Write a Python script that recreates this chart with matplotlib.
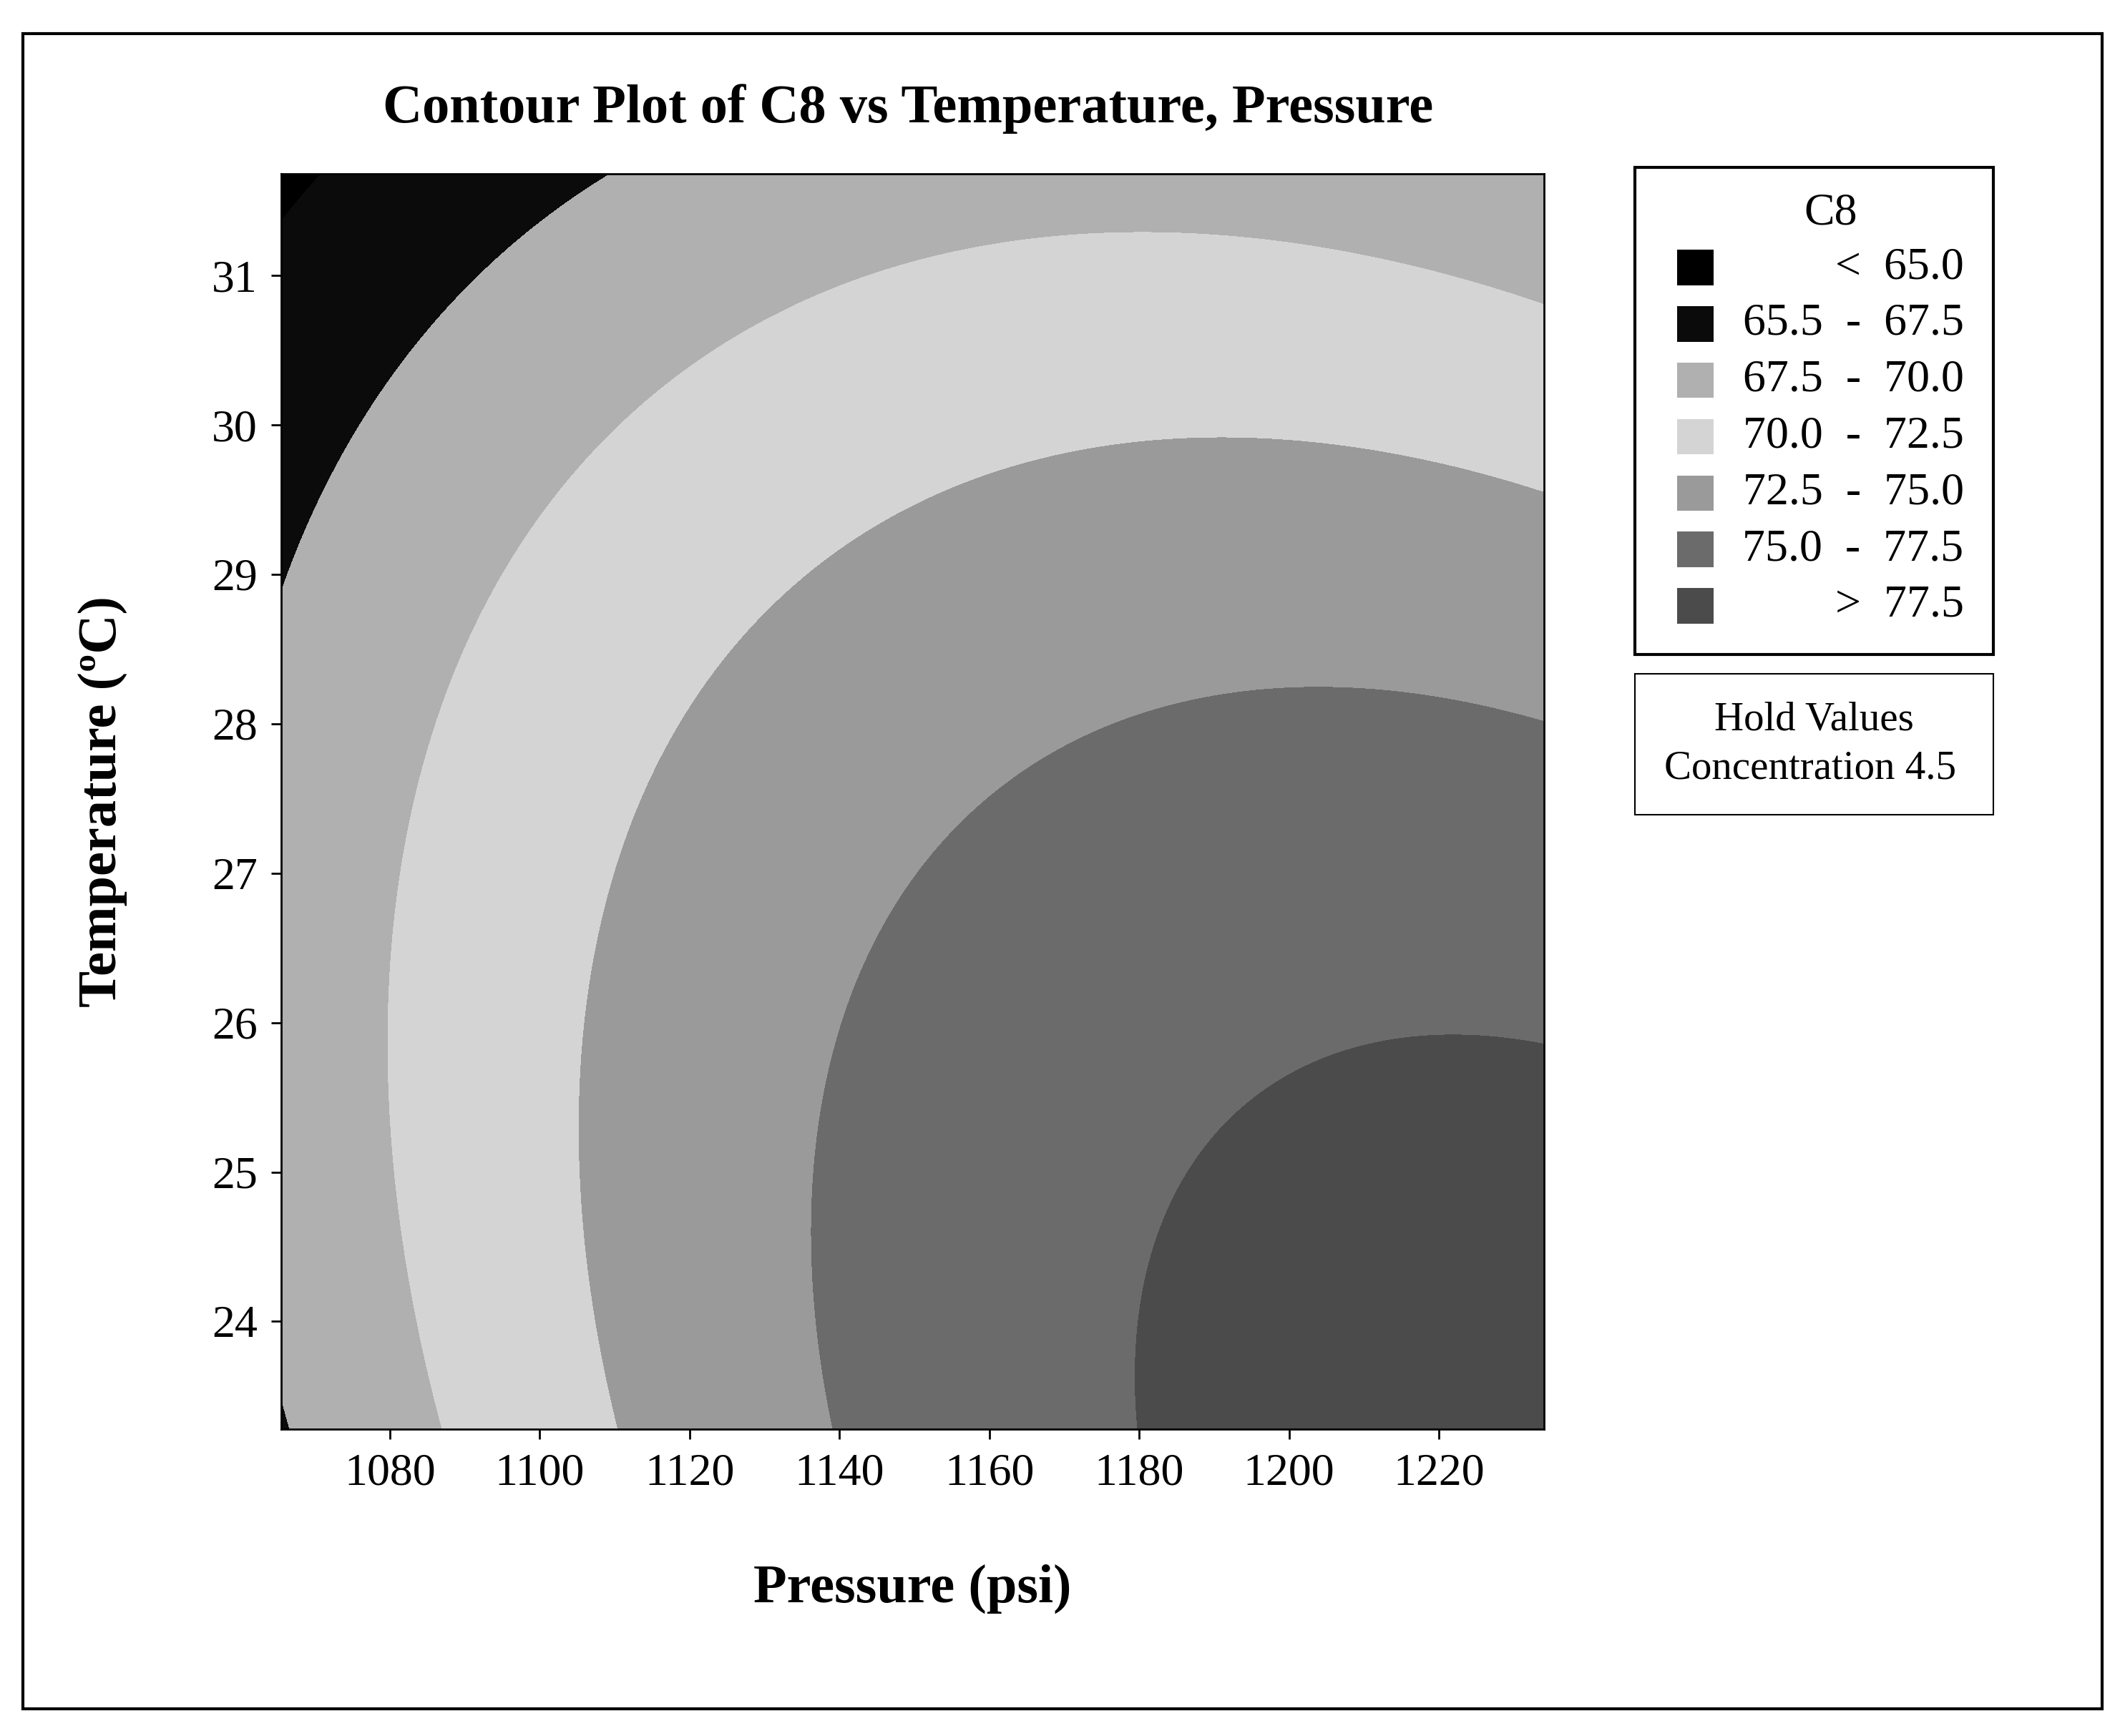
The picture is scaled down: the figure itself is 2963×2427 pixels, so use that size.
import numpy as np
import matplotlib
matplotlib.use("Agg")
import matplotlib.pyplot as plt
from matplotlib.patches import Rectangle

plt.rcParams['font.family'] = ['Liberation Serif', 'DejaVu Serif']

# Contour crossing points: pressure, temperature, level
cross_P = [1066, 1088, 1111, 1140, 1178, 1234, 1234, 1234, 1234, 1066, 1118, 1090,
           1081, 1091, 1130, 1180, 1107, 1117, 1146, 1186, 1139, 1154, 1183, 1182, 1197, 1220, 1234]
cross_T = [23.3, 23.3, 23.3, 23.3, 23.3, 25.9, 27.9, 29.4, 30.6, 28.6, 31.7, 30.5,
           26.0, 29.9, 30.8, 31.05, 25.0, 28.0, 29.4, 29.7, 26.5, 27.5, 28.0, 25.0, 25.7, 25.95, 31.68]
cross_Z = [67.5, 70, 72.5, 75, 77.5, 77.5, 75, 72.5, 70, 67.5, 67.5, 67.5,
           70, 70, 70, 70, 72.5, 72.5, 72.5, 72.5, 75, 75, 75, 77.5, 77.5, 77.5, 69.0]

levels = [60, 65, 67.5, 70, 72.5, 75, 77.5, 90]
colors = ['#000000', '#0b0b0b', '#b0b0b0', '#d4d4d4', '#9a9a9a', '#6b6b6b', '#4b4b4b']
legend_labels = ['<  65.0', '65.5  -  67.5', '67.5  -  70.0', '70.0  -  72.5',
                 '72.5  -  75.0', '75.0  -  77.5', '>  77.5']
xticks = [1080, 1100, 1120, 1140, 1160, 1180, 1200, 1220]
yticks = [24, 25, 26, 27, 28, 29, 30, 31]

P = np.array(cross_P, float); T = np.array(cross_T, float); Z = np.array(cross_Z, float)
p = (P - 1150) / 85; t = (T - 27.5) / 4.2
A = np.column_stack([np.ones_like(p), p, t, p*p, t*t, p*t])
coef, *_ = np.linalg.lstsq(A, Z, rcond=None)

pg = np.linspace(1065.5, 1234, 400); tg = np.linspace(23.28, 31.68, 400)
PG, TG = np.meshgrid(pg, tg)
pp = (PG - 1150) / 85; tt = (TG - 27.5) / 4.2
ZG = coef[0] + coef[1]*pp + coef[2]*tt + coef[3]*pp**2 + coef[4]*tt**2 + coef[5]*pp*tt

fig = plt.figure(figsize=(29.63, 24.27), dpi=100)
fig.patches.append(Rectangle((17/1560, 1-1258/1278), 1530/1560, 1233/1278,
                             transform=fig.transFigure, fill=False, lw=3, ec='black'))
ax = fig.add_axes([207/1560, 1-1052/1278, 929/1560, 924/1278])
ax.contourf(PG, TG, ZG, levels=levels, colors=colors, antialiased=False)
ax.set_xlim(1065.5, 1234); ax.set_ylim(23.28, 31.68)
ax.set_xticks(xticks); ax.set_yticks(yticks)
ax.tick_params(labelsize=46, length=10, width=2, pad=14)
for s in ax.spines.values(): s.set_linewidth(2)
ax.set_xlabel('Pressure (psi)', fontsize=55, fontweight='bold', labelpad=70)
ax.set_ylabel('Temperature (ºC)', fontsize=55, fontweight='bold', labelpad=85)
fig.text(668/1560, 1-80/1278, 'Contour Plot of C8 vs Temperature, Pressure',
         ha='center', va='center', fontsize=55, fontweight='bold')

# legend box
fig.patches.append(Rectangle((1203/1560, 1-482/1278), 264/1560, 359/1278,
                             transform=fig.transFigure, fill=False, lw=3, ec='black'))
fig.text(1347/1560, 1-157/1278, 'C8', ha='center', va='center', fontsize=46)
for i, (c, lab) in enumerate(zip(colors, legend_labels)):
    yc = 197 + i*41.5
    fig.patches.append(Rectangle((1234/1560, 1-(yc+13)/1278), 27/1560, 26/1278,
                                 transform=fig.transFigure, fc=c, ec='none'))
    fig.text(1445/1560, 1-yc/1278, lab, ha='right', va='center', fontsize=46)
fig.patches.append(Rectangle((1203/1560, 1-600/1278), 264/1560, 104/1278,
                             transform=fig.transFigure, fill=False, lw=1.5, ec='black'))
fig.text(1335/1560, 1-530/1278, 'Hold Values', ha='center', va='center', fontsize=41)
fig.text(1332/1560, 1-566/1278, 'Concentration 4.5', ha='center', va='center', fontsize=41)
fig.savefig('out.png', dpi=100)
